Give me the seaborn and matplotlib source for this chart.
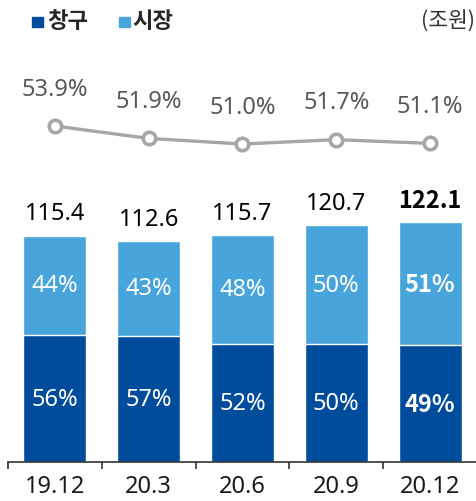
import numpy as np
import pandas as pd
import matplotlib
matplotlib.use('Agg')
import matplotlib.pyplot as plt
from matplotlib.ticker import FixedLocator
import seaborn as sns

periods = ['19.12', '20.3', '20.6', '20.9', '20.12']
totals = [115.4, 112.6, 115.7, 120.7, 122.1]
window_amt = [64.6, 64.3, 60.2, 59.9, 59.4]
window_pct = ['56%', '57%', '52%', '50%', '49%']
market_pct = ['44%', '43%', '48%', '50%', '51%']
ratio = [53.9, 51.9, 51.0, 51.7, 51.1]
ratio_labels = ['53.9%', '51.9%', '51.0%', '51.7%', '51.1%']

DARK = '#004C9C'
LIGHT = '#47A5DC'
GRAY = '#A6A6A6'

sns.set_theme(style='white')
plt.rcParams['font.family'] = ['Noto Sans', 'Noto Sans CJK KR', 'DejaVu Sans']
BOLD_FAMILY = ['Noto Sans CJK KR', 'DejaVu Sans']

df = pd.DataFrame({'period': periods, 'total': totals, 'window': window_amt, 'ratio': ratio})

fig = plt.figure(figsize=(4.77, 5.02), dpi=100)
ax = fig.add_axes([8 / 477, 39 / 502, 1 - 8 / 477, 463 / 502])

# stacked bars: total in light blue, window share in dark blue on top of it
sns.barplot(data=df, x='period', y='total', color=LIGHT, saturation=1, width=0.67, ax=ax)
sns.barplot(data=df, x='period', y='window', color=DARK, saturation=1, width=0.67, ax=ax)

ax.set_xlim(-0.5, 4.5)
ax.set_ylim(0, 463 / 1.962)
ax.set_xlabel('')
ax.set_ylabel('')
ax.set_yticks([])
for s in ['left', 'right', 'top']:
    ax.spines[s].set_visible(False)
ax.spines['bottom'].set_color('#333333')
ax.spines['bottom'].set_linewidth(1.2)
ax.xaxis.set_minor_locator(FixedLocator(np.arange(-0.5, 4, 1)))
ax.tick_params(axis='x', which='major', length=0, pad=9, labelsize=17, labelcolor='#1a1a1a')
ax.tick_params(axis='x', which='minor', bottom=True, length=5, width=1.2, color='#333333', direction='out')

for i in range(len(periods)):
    last = i == len(periods) - 1
    kw = dict(fontweight='bold', family=BOLD_FAMILY) if last else {}
    ax.annotate(f'{totals[i]:.1f}', (i, totals[i]), xytext=(0, 16), textcoords='offset points',
                ha='center', va='center', fontsize=17, color='black', **kw)
    ax.text(i, window_amt[i] / 2, window_pct[i], ha='center', va='center',
            fontsize=17, color='white', **kw)
    ax.text(i, (window_amt[i] + totals[i]) / 2, market_pct[i], ha='center', va='center',
            fontsize=17, color='white', **kw)

# ratio line on a secondary axis
ax2 = ax.twinx()
sns.pointplot(data=df, x='period', y='ratio', color=GRAY, markers='o', ax=ax2,
              markersize=9, markerfacecolor='white', markeredgecolor=GRAY,
              markeredgewidth=2.6, linewidth=2.4)
ax2.set_xlim(-0.5, 4.5)
ax2.set_ylim(-0.23, 463 / 6.207 - 0.23)
ax2.set_yticks([])
ax2.set_ylabel('')
for s in ax2.spines.values():
    s.set_visible(False)
for i in range(len(periods)):
    ax2.annotate(ratio_labels[i], (i, ratio[i]), xytext=(0, 27), textcoords='offset points',
                 ha='center', va='center', fontsize=17, color='#595959')

# legend and unit
fig.patches.append(plt.Rectangle((32 / 477, 1 - 28 / 502), 11 / 477, 10 / 502,
                                 transform=fig.transFigure, color=DARK))
fig.patches.append(plt.Rectangle((119 / 477, 1 - 28 / 502), 11 / 477, 10 / 502,
                                 transform=fig.transFigure, color=LIGHT))
fig.text(47 / 477, 1 - 21 / 502, '창구', fontsize=16, fontweight='bold', va='center', ha='left',
         family=BOLD_FAMILY)
fig.text(132 / 477, 1 - 21 / 502, '시장', fontsize=16, fontweight='bold', va='center', ha='left',
         family=BOLD_FAMILY)
fig.text(475 / 477, 1 - 22 / 502, '(조원)', fontsize=15.5, va='center', ha='right', color='#333333',
         family=['Noto Sans CJK KR'])

fig.savefig('out.png', dpi=100)
